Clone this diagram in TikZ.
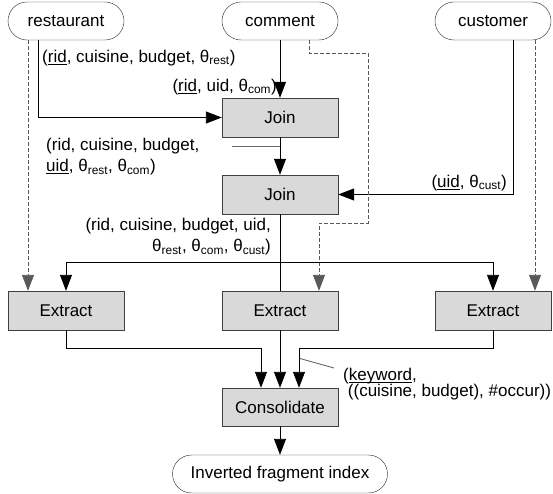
\documentclass[tikz,border=0pt]{standalone}
\usepackage{fontspec}
\setmainfont{Liberation Sans}
\usetikzlibrary{arrows.meta}
\newcommand{\sbs}[1]{\textsubscript{#1}}
\newcommand{\key}[1]{\underline{\smash{#1}}}

\begin{document}
\begin{tikzpicture}[x=1pt,y=-1pt,
		every node/.style={font=\fontsize{17}{21}\selectfont},
		src/.style={draw=black!85,rounded corners=19pt,minimum width=116pt,minimum height=38pt,inner sep=0pt},
		op/.style={draw=black!75,fill=black!15,minimum width=116pt,minimum height=39pt,inner sep=0pt},
		link/.style={line width=0.9pt,black},
		flow/.style={link,-{Triangle[length=16pt,width=12pt]}},
		side/.style={flow,black!65,dash pattern=on 4pt off 2pt},
		tick/.style={line width=0.9pt,black!60},
		lbl/.style={inner sep=0pt}]
	\useasboundingbox (0,0) rectangle (553,494);
	% sources
	\node[src] (rest) at (66,21) {restaurant};
	\node[src] (comm) at (280,21) {comment};
	\node[src] (cust) at (493,21) {customer};
	% operators
	\node[op] (join1) at (280,117.5) {Join};
	\node[op] (join2) at (280,194.5) {Join};
	\node[op] (extL) at (66,310.5) {Extract};
	\node[op] (extM) at (280,310.5) {Extract};
	\node[op] (extR) at (493,310.5) {Extract};
	\node[op,minimum height=38pt] (cons) at (280,407) {Consolidate};
	\node[src,minimum width=215pt] (out) at (280,474) {Inverted fragment index};
	% joins
	\draw[flow] ([xshift=-28pt]rest.south) |- (join1.west);
	\draw[flow] (comm) -- (join1);
	\draw[flow] (join1) -- (join2);
	\draw[flow] ([xshift=20pt]cust.south) |- (join2.east);
	% dashed side inputs of extract
	\draw[side] ([xshift=-38pt]rest.south) -- ([xshift=-38pt]extL.north);
	\draw[side] ([xshift=29pt]comm.south) -- ++(0,13) -| (368,223) -| ([xshift=39pt]extM.north);
	\draw[side] ([xshift=42pt]cust.south) -- ([xshift=42pt]extR.north);
	% split to extract
	\coordinate (split) at (280,262);
	\draw[link] (join2) -- (extM);
	\draw[flow] (split) -| (extL);
	\draw[flow] (split) -| (extR);
	% merge
	\draw[flow] (extL.south) -- ++(0,18) -| ([xshift=-19pt]cons.north);
	\draw[flow] (extM) -- (cons);
	\draw[flow] (extR.south) -- ++(0,18) -| ([xshift=19pt]cons.north);
	\draw[flow] (cons) -- (out);
	% labels
	\node[lbl,anchor=west] (lRest) at (42,58) {(\key{rid}, cuisine, budget, θ\sbs{rest})};
	\node[lbl,anchor=east] (lCom) at (277,87) {(\key{rid}, uid, θ\sbs{com})};
	\node[lbl,anchor=west,align=left] (lJoinA) at (46,157) {(rid, cuisine, budget,\\\key{uid}, θ\sbs{rest}, θ\sbs{com})};
	\node[lbl,anchor=east,align=right] (lJoinB) at (271,237) {(rid, cuisine, budget, uid,\\θ\sbs{rest}, θ\sbs{com}, θ\sbs{cust})};
	\node[lbl,anchor=east] (lCust) at (507,183) {(\key{uid}, θ\sbs{cust})};
	\node[lbl,anchor=west,align=left,font=\fontsize{17}{16}\selectfont] (lKey) at (343,384) {(\key{keyword},\\\ ((cuisine, budget), \#occur))};
	% pointer ticks
	\coordinate (tA) at (232,146.5);
	\draw[tick] (tA) -- (tA -| join1.south);
	\coordinate (tB) at (300,358.5);
	\coordinate (tC) at (334,368);
	\draw[tick] (tB) -- (tC);
\end{tikzpicture}
\end{document}
